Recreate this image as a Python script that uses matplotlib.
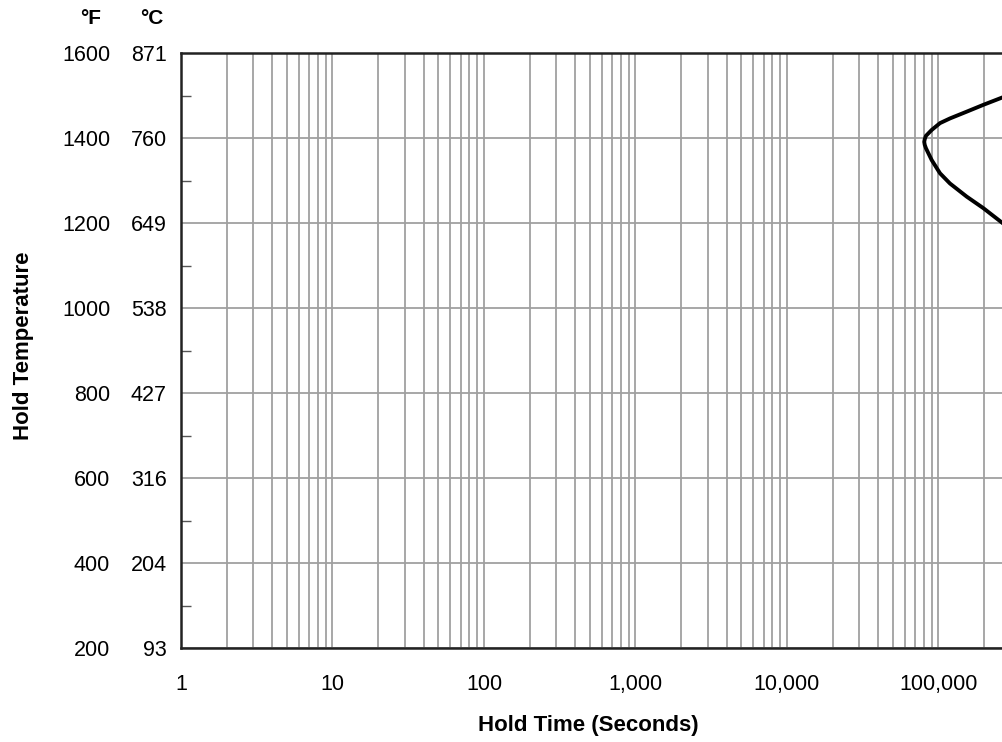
import matplotlib

matplotlib.use("Agg", force=True)
import matplotlib.pyplot as plt
import matplotlib.transforms as mtransforms
from matplotlib.ticker import FixedLocator, NullFormatter

plt.rcParams["font.family"] = ["Liberation Sans", "DejaVu Sans"]

# axis values
temp_f = [200, 400, 600, 800, 1000, 1200, 1400, 1600]
temp_c = ["93", "204", "316", "427", "538", "649", "760", "871"]
time_ticks = [1, 10, 100, 1000, 10000, 100000]
time_labels = ["1", "10", "100", "1,000", "10,000", "100,000"]

# transformation curve (seconds, deg F)
curve_time = [330000, 266600, 197600, 153600, 119000, 102300, 90200, 82600, 81100,
              80500, 81100, 82600, 90200, 102300, 119000, 153600, 197600, 266600, 330000]
curve_temp = [1505, 1496, 1478, 1462, 1446, 1435, 1419, 1405, 1397,
              1391, 1384, 1376, 1348, 1317, 1293, 1262, 1235, 1199, 1183]

W, H = 1003, 742
fig = plt.figure(figsize=(W / 100, H / 100), dpi=100)
ax = fig.add_axes([181 / W, (H - 648) / H, (1003 - 181) / W, (648 - 53) / H])

ax.set_xscale("log")
ax.set_xlim(1, 10 ** (822 / 151.5))
ax.set_ylim(200, 1600)

minor_x = [m * 10 ** d for d in range(0, 6) for m in range(2, 10)]
ax.xaxis.set_major_locator(FixedLocator(time_ticks))
ax.xaxis.set_minor_locator(FixedLocator(minor_x))
ax.xaxis.set_minor_formatter(NullFormatter())
ax.set_xticklabels(time_labels)
ax.tick_params(axis="x", which="both", length=0, pad=19, labelsize=15.5)

ax.set_yticks(temp_f)
ax.set_yticklabels([str(v) for v in temp_f])
ax.yaxis.set_minor_locator(FixedLocator([300, 500, 700, 900, 1100, 1300, 1500]))
ax.tick_params(axis="y", which="major", length=0, pad=51, labelsize=15.5)
ax.tick_params(axis="y", which="minor", direction="in", length=7, width=1.0, color="#555555")

ax.grid(True, which="both", axis="x", color="#a0a0a0", linewidth=1.3)
ax.grid(True, which="major", axis="y", color="#a0a0a0", linewidth=1.3)

for side in ["left", "bottom", "top"]:
    ax.spines[side].set_linewidth(1.8)
    ax.spines[side].set_color("#222222")
ax.spines["right"].set_visible(False)

# Celsius labels next to the Fahrenheit ones
trans = mtransforms.blended_transform_factory(fig.transFigure, ax.transData)
for f, c in zip(temp_f, temp_c):
    ax.text(167 / W, f, c, transform=trans, ha="right", va="center_baseline",
            fontsize=15.5, clip_on=False)

fig.text(101 / W, 1 - 19 / H, "°F", ha="right", va="center", fontsize=15, fontweight="bold")
fig.text(164 / W, 1 - 19 / H, "°C", ha="right", va="center", fontsize=15, fontweight="bold")

ax.plot(curve_time, curve_temp, color="black", linewidth=2.8,
        solid_capstyle="round", solid_joinstyle="round")

fig.text(588 / W, 1 - 726 / H, "Hold Time (Seconds)", ha="center", va="center",
         fontsize=16, fontweight="bold")
fig.text(24 / W, 1 - 346 / H, "Hold Temperature", ha="center", va="center",
         rotation=90, fontsize=16, fontweight="bold")

fig.savefig("out.png", dpi=100)
